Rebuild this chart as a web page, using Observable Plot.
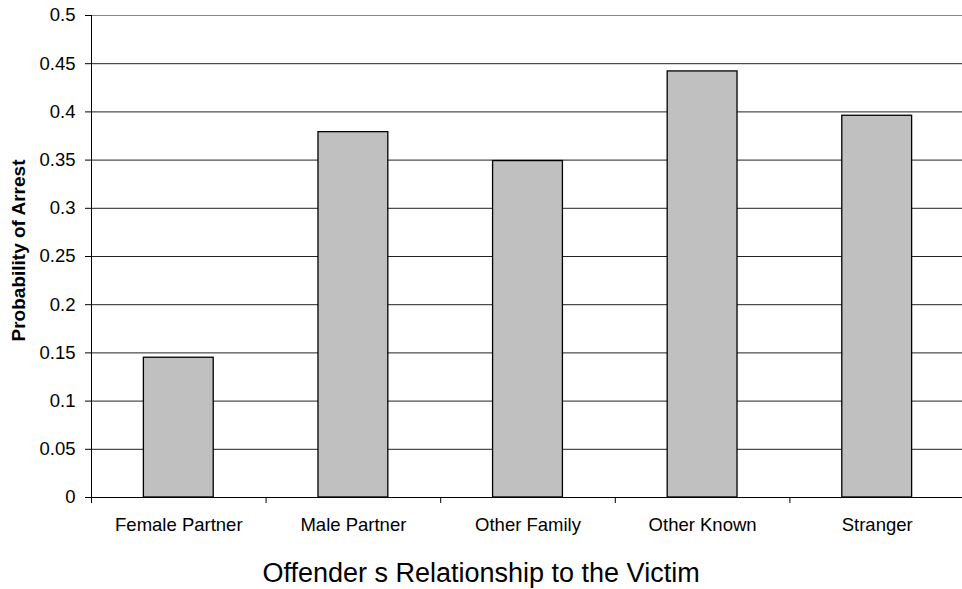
<!DOCTYPE html>
<html>
<head>
<meta charset="utf-8">
<script src="https://cdn.jsdelivr.net/npm/d3@7"></script>
<script src="https://cdn.jsdelivr.net/npm/@observablehq/plot@0.6"></script>
<style>
  html, body { margin: 0; padding: 0; background: #fff; }
  svg { display: block; }
</style>
</head>
<body>
<div id="chart"></div>
<script>
const categories = ["Female Partner", "Male Partner", "Other Family", "Other Known", "Stranger"];
const probability = [0.145, 0.379, 0.349, 0.442, 0.396];
const yTicks = [0, 0.05, 0.1, 0.15, 0.2, 0.25, 0.3, 0.35, 0.4, 0.45, 0.5];
const yLabel = "Probability of Arrest";
const xLabel = "Offender s Relationship to the Victim";

const data = categories.map((c, i) => ({category: c, index: i, value: probability[i]}));
const bandEdges = d3.range(categories.length + 1);
const bandCenters = categories.map((c, i) => i + 0.5);
const font = "'Liberation Sans', Arial, sans-serif";

const chart = Plot.plot({
  width: 962,
  height: 589,
  marginTop: 15,
  marginLeft: 91,
  marginRight: 0,
  marginBottom: 92,
  style: {fontFamily: font, background: "#fff", color: "#000"},
  x: {domain: [0, categories.length], range: [91, 964]},
  y: {domain: [0, 0.5]},
  marks: [
    Plot.ruleY(yTicks.filter(d => d > 0 && d < 0.5), {stroke: "#222", strokeWidth: 1}),
    Plot.ruleY([0.5], {stroke: "#888", strokeWidth: 1}),
    Plot.rectY(data, {
      x1: d => d.index + 0.3,
      x2: d => d.index + 0.7,
      y1: 0,
      y2: "value",
      fill: "#c0c0c0",
      stroke: "#000",
      strokeWidth: 1.3
    }),
    Plot.ruleX([0], {stroke: "#000", strokeWidth: 1}),
    Plot.ruleY([0], {stroke: "#000", strokeWidth: 1}),
    Plot.axisY({
      ticks: yTicks,
      tickFormat: d => String(d),
      tickSize: 6,
      tickPadding: 10,
      fontSize: 18.5,
      label: null,
      stroke: "#000"
    }),
    Plot.axisX({
      ticks: bandEdges,
      tickSize: 6,
      tickFormat: () => "",
      label: null,
      stroke: "#000"
    }),
    Plot.axisX({
      ticks: bandCenters,
      tickSize: 0,
      tickPadding: 20,
      tickFormat: d => categories[Math.round(d - 0.5)],
      fontSize: 18.5,
      label: null
    }),
    Plot.text([yLabel], {
      frameAnchor: "left",
      textAnchor: "middle",
      dx: -73,
      dy: -6,
      rotate: -90,
      fontSize: 19,
      fontWeight: "bold",
      fill: "#000"
    }),
    Plot.text([xLabel], {
      frameAnchor: "bottom",
      dx: -46,
      dy: 84,
      fontSize: 27,
      fill: "#000"
    })
  ]
});
document.getElementById("chart").appendChild(chart);
</script>
</body>
</html>
